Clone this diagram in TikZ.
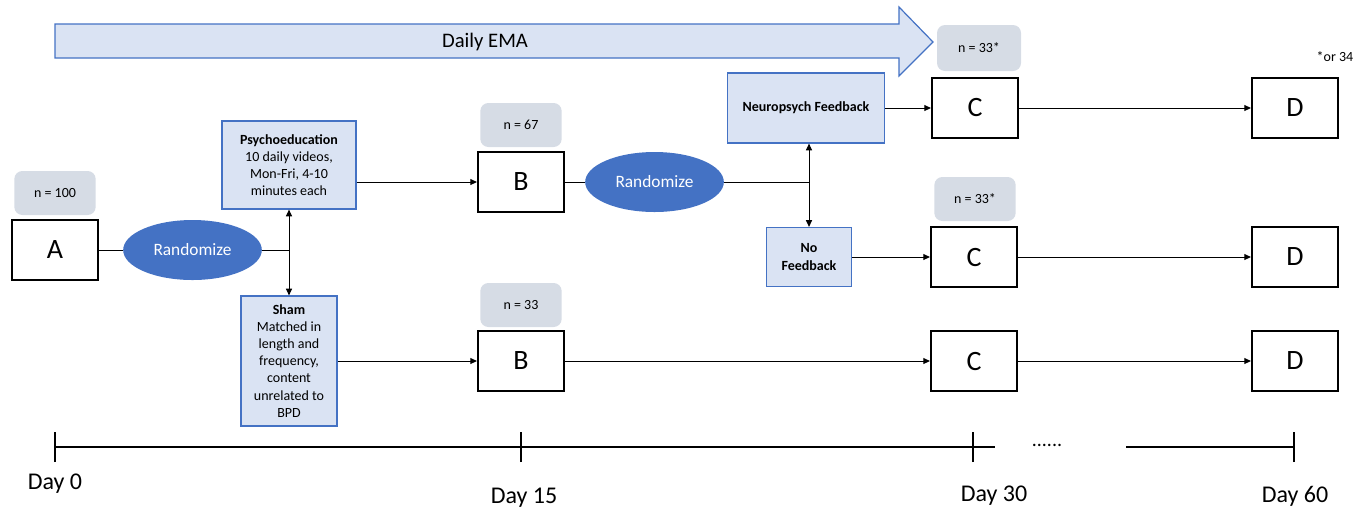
\documentclass[tikz,border=0pt]{standalone}
\usepackage{fontspec}
\setmainfont{Carlito}
\usetikzlibrary{shapes.geometric,arrows.meta}
\definecolor{armfill}{RGB}{218,227,243}
\definecolor{armdraw}{RGB}{68,114,196}
\definecolor{randfill}{RGB}{68,114,196}
\definecolor{nfill}{RGB}{214,220,229}
\tikzset{
  visit/.style={draw, line width=1.6pt, fill=white, minimum width=64.5pt, minimum height=45pt, inner sep=0pt, font=\fontsize{21}{24}\selectfont},
  nbox/.style={fill=nfill, rounded corners=6pt, minimum width=61pt, minimum height=33pt, inner sep=0pt, font=\fontsize{10.5}{12.8}\selectfont},
  armbox/.style={draw=armdraw, line width=0.9pt, fill=armfill, align=center, inner sep=0pt, font=\fontsize{10.5}{12.8}\selectfont},
  randomize/.style={ellipse, fill=randfill, text=white, minimum width=104pt, minimum height=45pt, inner sep=0pt, font=\fontsize{13}{15}\selectfont},
  flow/.style={-{Triangle[length=5pt,width=4.5pt]}, line width=0.75pt},
  link/.style={line width=0.75pt},
  timeline/.style={line width=2.2pt},
  daylabel/.style={font=\fontsize{18}{21}\selectfont}
}
\begin{document}
\begin{tikzpicture}[x=0.75pt,y=0.75pt,yscale=-1,xscale=1]
\useasboundingbox (0,0) rectangle (1369,512);
%Shape: Right Arrow
\draw [draw=armdraw, fill=armfill, line width=0.9pt] (55,24) -- (899,24) -- (899,7) -- (933,42) -- (899,76) -- (899,58) -- (55,58) -- cycle ;
% Text Node
\node (ema) at (485,42) [font=\fontsize{15.5}{18}\selectfont] {Daily EMA};

%Shapes: visits
\node (A) at (55,250) [visit] {A};
\node (B1) at (521,182) [visit] {B};
\node (B2) at (521,361) [visit] {B};
\node (C1) at (975,108) [visit] {C};
\node (C2) at (974,257) [visit] {C};
\node (C3) at (974,361) [visit] {C};
\node (D1) at (1295,108) [visit] {D};
\node (D2) at (1295,257) [visit] {D};
\node (D3) at (1295,361) [visit] {D};

%Shapes: sample sizes
\node (n100) at (55,193) [nbox] {n = 100};
\node (n67) at (521,125) [nbox] {n = 67};
\node (n33) at (521,305) [nbox] {n = 33};
\node (n33a) at (979,48) [nbox, minimum width=63pt, minimum height=34.5pt] {n = 33*};
\node (n33b) at (975,199) [nbox] {n = 33*};
% Text Node
\node (orfour) at (1335,57) [font=\fontsize{10.5}{12.8}\selectfont] {*or 34};

%Shapes: randomization
\node (rand1) at (192.5,250) [randomize] {Randomize};
\node (rand2) at (654.5,182) [randomize] {Randomize};
\coordinate (split1) at (289,250);
\coordinate (split2) at (809,182);

%Shapes: arms
\node (psy) at (289,165) [armbox, minimum width=100.5pt, minimum height=66pt] {\textbf{Psychoeducation}\\10 daily videos,\\Mon-Fri, 4-10\\minutes each};
\node (sham) at (289,361) [armbox, minimum width=72pt, minimum height=97.5pt] {\textbf{Sham}\\Matched in\\length and\\frequency,\\content\\unrelated to\\BPD};
\node (neuro) at (806,108) [armbox, minimum width=117.75pt, minimum height=52.5pt] {\textbf{Neuropsych Feedback}};
\node (nofb) at (809,257) [armbox, minimum width=63.75pt, minimum height=44.25pt] {\textbf{No}\\\textbf{Feedback}};

%Straight Lines
\draw [link] (A) -- (rand1) ;
\draw [link] (rand1) -- (split1) ;
\draw [flow] (split1) -- (psy) ;
\draw [flow] (split1) -- (sham) ;
\draw [flow] (psy.east |- B1) -- (B1) ;
\draw [flow] (sham) -- (B2) ;
\draw [link] (B1) -- (rand2) ;
\draw [link] (rand2) -- (split2) ;
\draw [flow] (split2) -- (split2 |- neuro.south) ;
\draw [flow] (split2) -- (nofb) ;
\draw [flow] (neuro) -- (C1) ;
\draw [flow] (nofb) -- (C2) ;
\draw [flow] (B2) -- (C3) ;
\draw [flow] (C1) -- (D1) ;
\draw [flow] (C2) -- (D2) ;
\draw [flow] (C3) -- (D3) ;

%Timeline
\coordinate (t0) at (55,447);
\coordinate (t15) at (521,447);
\coordinate (t30) at (973,447);
\coordinate (tgap) at (995,447);
\coordinate (tback) at (1126,447);
\coordinate (t60) at (1294,447);
\draw [timeline] (t0) -- (tgap) ;
\draw [timeline] (tback) -- (t60) ;
\foreach \t in {t0,t15,t30,t60}
  \draw [timeline] ([yshift=11.25pt]\t) -- ([yshift=-11.25pt]\t) ;
% Text Node
\node (dots) at (1047,445) [font=\fontsize{15}{18}\selectfont] {......};
\node (day0) at (55,484) [daylabel] {Day 0};
\node (day15) at (524,498) [daylabel] {Day 15};
\node (day30) at (994,496) [daylabel] {Day 30};
\node (day60) at (1295,496) [daylabel] {Day 60};
\end{tikzpicture}
\end{document}
